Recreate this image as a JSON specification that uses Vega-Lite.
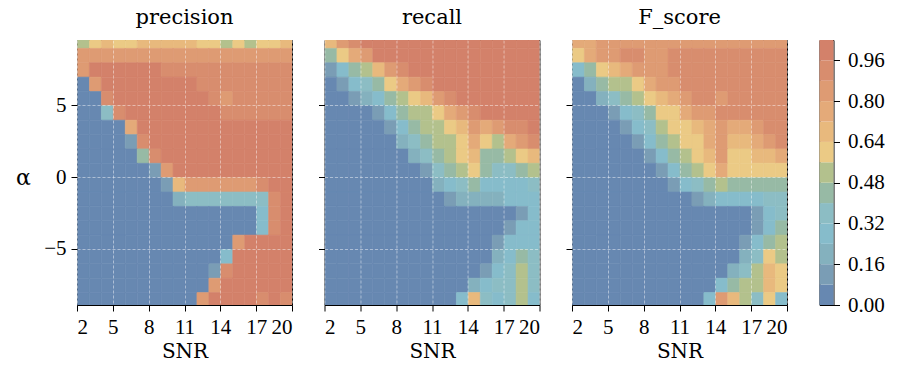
{
"$schema": "https://vega.github.io/schema/vega-lite/v6.json",
"padding": {"left": 15, "top": 6, "right": 0, "bottom": 0},
"background": "white",
"config": {
  "view": {"stroke": "#000", "strokeWidth": 1},
  "axis": {"domain": false, "tickColor": "#000", "tickSize": 6, "labelFont": "Liberation Serif", "labelFontSize": 21, "labelColor": "#000", "titleFont": "DejaVu Serif", "titleFontSize": 20, "titleFontWeight": "normal", "titleColor": "#000", "gridColor": "#ffffff", "gridDash": [3, 2], "gridOpacity": 0.55, "gridWidth": 0.8, "labelPadding": 5},
  "title": {"font": "DejaVu Serif", "fontSize": 21, "fontWeight": "normal", "color": "#000", "offset": 12.5}
},
"spacing": 32.5,
"bounds": "flush",
"resolve": {"scale": {"color": "independent", "stroke": "independent"}},
"datasets": {
"P": [
{"s":2.5,"a":9.5,"v":0.52},{"s":3.5,"a":9.5,"v":0.62},{"s":4.5,"a":9.5,"v":0.66},{"s":5.5,"a":9.5,"v":0.58},{"s":6.5,"a":9.5,"v":0.62},{"s":7.5,"a":9.5,"v":0.66},{"s":8.5,"a":9.5,"v":0.68},{"s":9.5,"a":9.5,"v":0.68},{"s":10.5,"a":9.5,"v":0.66},{"s":11.5,"a":9.5,"v":0.66},{"s":12.5,"a":9.5,"v":0.62},{"s":13.5,"a":9.5,"v":0.58},{"s":14.5,"a":9.5,"v":0.55},{"s":15.5,"a":9.5,"v":0.6},{"s":16.5,"a":9.5,"v":0.55},{"s":17.5,"a":9.5,"v":0.58},{"s":18.5,"a":9.5,"v":0.62},{"s":19.5,"a":9.5,"v":0.64},
{"s":2.5,"a":8.5,"v":0.86},{"s":3.5,"a":8.5,"v":0.87},{"s":4.5,"a":8.5,"v":0.87},{"s":5.5,"a":8.5,"v":0.87},{"s":6.5,"a":8.5,"v":0.87},{"s":7.5,"a":8.5,"v":0.87},{"s":8.5,"a":8.5,"v":0.87},{"s":9.5,"a":8.5,"v":0.87},{"s":10.5,"a":8.5,"v":0.87},{"s":11.5,"a":8.5,"v":0.87},{"s":12.5,"a":8.5,"v":0.87},{"s":13.5,"a":8.5,"v":0.87},{"s":14.5,"a":8.5,"v":0.87},{"s":15.5,"a":8.5,"v":0.87},{"s":16.5,"a":8.5,"v":0.87},{"s":17.5,"a":8.5,"v":0.87},{"s":18.5,"a":8.5,"v":0.87},{"s":19.5,"a":8.5,"v":0.87},
{"s":2.5,"a":7.5,"v":0.85},{"s":3.5,"a":7.5,"v":0.98},{"s":4.5,"a":7.5,"v":0.98},{"s":5.5,"a":7.5,"v":0.98},{"s":6.5,"a":7.5,"v":0.98},{"s":7.5,"a":7.5,"v":0.98},{"s":8.5,"a":7.5,"v":0.97},{"s":9.5,"a":7.5,"v":0.93},{"s":10.5,"a":7.5,"v":0.93},{"s":11.5,"a":7.5,"v":0.93},{"s":12.5,"a":7.5,"v":0.93},{"s":13.5,"a":7.5,"v":0.93},{"s":14.5,"a":7.5,"v":0.93},{"s":15.5,"a":7.5,"v":0.93},{"s":16.5,"a":7.5,"v":0.93},{"s":17.5,"a":7.5,"v":0.92},{"s":18.5,"a":7.5,"v":0.93},{"s":19.5,"a":7.5,"v":0.93},
{"s":2.5,"a":6.5,"v":0.05},{"s":3.5,"a":6.5,"v":0.8},{"s":4.5,"a":6.5,"v":0.98},{"s":5.5,"a":6.5,"v":0.98},{"s":6.5,"a":6.5,"v":0.98},{"s":7.5,"a":6.5,"v":0.98},{"s":8.5,"a":6.5,"v":0.98},{"s":9.5,"a":6.5,"v":0.98},{"s":10.5,"a":6.5,"v":0.98},{"s":11.5,"a":6.5,"v":0.97},{"s":12.5,"a":6.5,"v":0.93},{"s":13.5,"a":6.5,"v":0.93},{"s":14.5,"a":6.5,"v":0.93},{"s":15.5,"a":6.5,"v":0.93},{"s":16.5,"a":6.5,"v":0.92},{"s":17.5,"a":6.5,"v":0.93},{"s":18.5,"a":6.5,"v":0.93},{"s":19.5,"a":6.5,"v":0.93},
{"s":2.5,"a":5.5,"v":0.02},{"s":3.5,"a":5.5,"v":0.02},{"s":4.5,"a":5.5,"v":0.95},{"s":5.5,"a":5.5,"v":0.98},{"s":6.5,"a":5.5,"v":0.98},{"s":7.5,"a":5.5,"v":0.98},{"s":8.5,"a":5.5,"v":0.98},{"s":9.5,"a":5.5,"v":0.98},{"s":10.5,"a":5.5,"v":0.98},{"s":11.5,"a":5.5,"v":0.98},{"s":12.5,"a":5.5,"v":0.97},{"s":13.5,"a":5.5,"v":0.93},{"s":14.5,"a":5.5,"v":0.86},{"s":15.5,"a":5.5,"v":0.92},{"s":16.5,"a":5.5,"v":0.92},{"s":17.5,"a":5.5,"v":0.93},{"s":18.5,"a":5.5,"v":0.93},{"s":19.5,"a":5.5,"v":0.93},
{"s":2.5,"a":4.5,"v":0.02},{"s":3.5,"a":4.5,"v":0.02},{"s":4.5,"a":4.5,"v":0.35},{"s":5.5,"a":4.5,"v":0.95},{"s":6.5,"a":4.5,"v":0.98},{"s":7.5,"a":4.5,"v":0.98},{"s":8.5,"a":4.5,"v":0.98},{"s":9.5,"a":4.5,"v":0.98},{"s":10.5,"a":4.5,"v":0.98},{"s":11.5,"a":4.5,"v":0.98},{"s":12.5,"a":4.5,"v":0.98},{"s":13.5,"a":4.5,"v":0.97},{"s":14.5,"a":4.5,"v":0.95},{"s":15.5,"a":4.5,"v":0.93},{"s":16.5,"a":4.5,"v":0.93},{"s":17.5,"a":4.5,"v":0.93},{"s":18.5,"a":4.5,"v":0.88},{"s":19.5,"a":4.5,"v":0.93},
{"s":2.5,"a":3.5,"v":0.02},{"s":3.5,"a":3.5,"v":0.02},{"s":4.5,"a":3.5,"v":0.02},{"s":5.5,"a":3.5,"v":0.05},{"s":6.5,"a":3.5,"v":0.75},{"s":7.5,"a":3.5,"v":0.98},{"s":8.5,"a":3.5,"v":0.98},{"s":9.5,"a":3.5,"v":0.98},{"s":10.5,"a":3.5,"v":0.98},{"s":11.5,"a":3.5,"v":0.98},{"s":12.5,"a":3.5,"v":0.98},{"s":13.5,"a":3.5,"v":0.98},{"s":14.5,"a":3.5,"v":0.98},{"s":15.5,"a":3.5,"v":0.97},{"s":16.5,"a":3.5,"v":0.97},{"s":17.5,"a":3.5,"v":0.97},{"s":18.5,"a":3.5,"v":0.97},{"s":19.5,"a":3.5,"v":0.97},
{"s":2.5,"a":2.5,"v":0.02},{"s":3.5,"a":2.5,"v":0.02},{"s":4.5,"a":2.5,"v":0.02},{"s":5.5,"a":2.5,"v":0.02},{"s":6.5,"a":2.5,"v":0.15},{"s":7.5,"a":2.5,"v":0.95},{"s":8.5,"a":2.5,"v":0.98},{"s":9.5,"a":2.5,"v":0.98},{"s":10.5,"a":2.5,"v":0.98},{"s":11.5,"a":2.5,"v":0.98},{"s":12.5,"a":2.5,"v":0.98},{"s":13.5,"a":2.5,"v":0.98},{"s":14.5,"a":2.5,"v":0.98},{"s":15.5,"a":2.5,"v":0.98},{"s":16.5,"a":2.5,"v":0.98},{"s":17.5,"a":2.5,"v":0.98},{"s":18.5,"a":2.5,"v":0.98},{"s":19.5,"a":2.5,"v":0.98},
{"s":2.5,"a":1.5,"v":0.02},{"s":3.5,"a":1.5,"v":0.02},{"s":4.5,"a":1.5,"v":0.02},{"s":5.5,"a":1.5,"v":0.02},{"s":6.5,"a":1.5,"v":0.02},{"s":7.5,"a":1.5,"v":0.45},{"s":8.5,"a":1.5,"v":0.92},{"s":9.5,"a":1.5,"v":0.98},{"s":10.5,"a":1.5,"v":0.98},{"s":11.5,"a":1.5,"v":0.98},{"s":12.5,"a":1.5,"v":0.98},{"s":13.5,"a":1.5,"v":0.98},{"s":14.5,"a":1.5,"v":0.98},{"s":15.5,"a":1.5,"v":0.98},{"s":16.5,"a":1.5,"v":0.98},{"s":17.5,"a":1.5,"v":0.98},{"s":18.5,"a":1.5,"v":0.98},{"s":19.5,"a":1.5,"v":0.98},
{"s":2.5,"a":0.5,"v":0.02},{"s":3.5,"a":0.5,"v":0.02},{"s":4.5,"a":0.5,"v":0.02},{"s":5.5,"a":0.5,"v":0.02},{"s":6.5,"a":0.5,"v":0.02},{"s":7.5,"a":0.5,"v":0.02},{"s":8.5,"a":0.5,"v":0.12},{"s":9.5,"a":0.5,"v":0.85},{"s":10.5,"a":0.5,"v":0.98},{"s":11.5,"a":0.5,"v":0.98},{"s":12.5,"a":0.5,"v":0.98},{"s":13.5,"a":0.5,"v":0.98},{"s":14.5,"a":0.5,"v":0.98},{"s":15.5,"a":0.5,"v":0.98},{"s":16.5,"a":0.5,"v":0.98},{"s":17.5,"a":0.5,"v":0.98},{"s":18.5,"a":0.5,"v":0.98},{"s":19.5,"a":0.5,"v":0.98},
{"s":2.5,"a":-0.5,"v":0.02},{"s":3.5,"a":-0.5,"v":0.02},{"s":4.5,"a":-0.5,"v":0.02},{"s":5.5,"a":-0.5,"v":0.02},{"s":6.5,"a":-0.5,"v":0.02},{"s":7.5,"a":-0.5,"v":0.02},{"s":8.5,"a":-0.5,"v":0.02},{"s":9.5,"a":-0.5,"v":0.1},{"s":10.5,"a":-0.5,"v":0.7},{"s":11.5,"a":-0.5,"v":0.85},{"s":12.5,"a":-0.5,"v":0.85},{"s":13.5,"a":-0.5,"v":0.85},{"s":14.5,"a":-0.5,"v":0.85},{"s":15.5,"a":-0.5,"v":0.85},{"s":16.5,"a":-0.5,"v":0.85},{"s":17.5,"a":-0.5,"v":0.88},{"s":18.5,"a":-0.5,"v":0.97},{"s":19.5,"a":-0.5,"v":0.98},
{"s":2.5,"a":-1.5,"v":0.02},{"s":3.5,"a":-1.5,"v":0.02},{"s":4.5,"a":-1.5,"v":0.02},{"s":5.5,"a":-1.5,"v":0.02},{"s":6.5,"a":-1.5,"v":0.02},{"s":7.5,"a":-1.5,"v":0.02},{"s":8.5,"a":-1.5,"v":0.02},{"s":9.5,"a":-1.5,"v":0.02},{"s":10.5,"a":-1.5,"v":0.2},{"s":11.5,"a":-1.5,"v":0.32},{"s":12.5,"a":-1.5,"v":0.32},{"s":13.5,"a":-1.5,"v":0.32},{"s":14.5,"a":-1.5,"v":0.32},{"s":15.5,"a":-1.5,"v":0.32},{"s":16.5,"a":-1.5,"v":0.32},{"s":17.5,"a":-1.5,"v":0.35},{"s":18.5,"a":-1.5,"v":0.9},{"s":19.5,"a":-1.5,"v":0.98},
{"s":2.5,"a":-2.5,"v":0.02},{"s":3.5,"a":-2.5,"v":0.02},{"s":4.5,"a":-2.5,"v":0.02},{"s":5.5,"a":-2.5,"v":0.02},{"s":6.5,"a":-2.5,"v":0.02},{"s":7.5,"a":-2.5,"v":0.02},{"s":8.5,"a":-2.5,"v":0.02},{"s":9.5,"a":-2.5,"v":0.02},{"s":10.5,"a":-2.5,"v":0.02},{"s":11.5,"a":-2.5,"v":0.02},{"s":12.5,"a":-2.5,"v":0.02},{"s":13.5,"a":-2.5,"v":0.02},{"s":14.5,"a":-2.5,"v":0.02},{"s":15.5,"a":-2.5,"v":0.02},{"s":16.5,"a":-2.5,"v":0.02},{"s":17.5,"a":-2.5,"v":0.3},{"s":18.5,"a":-2.5,"v":0.95},{"s":19.5,"a":-2.5,"v":0.98},
{"s":2.5,"a":-3.5,"v":0.02},{"s":3.5,"a":-3.5,"v":0.02},{"s":4.5,"a":-3.5,"v":0.02},{"s":5.5,"a":-3.5,"v":0.02},{"s":6.5,"a":-3.5,"v":0.02},{"s":7.5,"a":-3.5,"v":0.02},{"s":8.5,"a":-3.5,"v":0.02},{"s":9.5,"a":-3.5,"v":0.02},{"s":10.5,"a":-3.5,"v":0.02},{"s":11.5,"a":-3.5,"v":0.02},{"s":12.5,"a":-3.5,"v":0.02},{"s":13.5,"a":-3.5,"v":0.02},{"s":14.5,"a":-3.5,"v":0.02},{"s":15.5,"a":-3.5,"v":0.02},{"s":16.5,"a":-3.5,"v":0.02},{"s":17.5,"a":-3.5,"v":0.3},{"s":18.5,"a":-3.5,"v":0.95},{"s":19.5,"a":-3.5,"v":0.98},
{"s":2.5,"a":-4.5,"v":0.02},{"s":3.5,"a":-4.5,"v":0.02},{"s":4.5,"a":-4.5,"v":0.02},{"s":5.5,"a":-4.5,"v":0.02},{"s":6.5,"a":-4.5,"v":0.02},{"s":7.5,"a":-4.5,"v":0.02},{"s":8.5,"a":-4.5,"v":0.02},{"s":9.5,"a":-4.5,"v":0.02},{"s":10.5,"a":-4.5,"v":0.02},{"s":11.5,"a":-4.5,"v":0.02},{"s":12.5,"a":-4.5,"v":0.02},{"s":13.5,"a":-4.5,"v":0.02},{"s":14.5,"a":-4.5,"v":0.02},{"s":15.5,"a":-4.5,"v":0.85},{"s":16.5,"a":-4.5,"v":0.98},{"s":17.5,"a":-4.5,"v":0.98},{"s":18.5,"a":-4.5,"v":0.98},{"s":19.5,"a":-4.5,"v":0.98},
{"s":2.5,"a":-5.5,"v":0.02},{"s":3.5,"a":-5.5,"v":0.02},{"s":4.5,"a":-5.5,"v":0.02},{"s":5.5,"a":-5.5,"v":0.02},{"s":6.5,"a":-5.5,"v":0.02},{"s":7.5,"a":-5.5,"v":0.02},{"s":8.5,"a":-5.5,"v":0.02},{"s":9.5,"a":-5.5,"v":0.02},{"s":10.5,"a":-5.5,"v":0.02},{"s":11.5,"a":-5.5,"v":0.02},{"s":12.5,"a":-5.5,"v":0.02},{"s":13.5,"a":-5.5,"v":0.02},{"s":14.5,"a":-5.5,"v":0.3},{"s":15.5,"a":-5.5,"v":0.98},{"s":16.5,"a":-5.5,"v":0.98},{"s":17.5,"a":-5.5,"v":0.98},{"s":18.5,"a":-5.5,"v":0.98},{"s":19.5,"a":-5.5,"v":0.98},
{"s":2.5,"a":-6.5,"v":0.02},{"s":3.5,"a":-6.5,"v":0.02},{"s":4.5,"a":-6.5,"v":0.02},{"s":5.5,"a":-6.5,"v":0.02},{"s":6.5,"a":-6.5,"v":0.02},{"s":7.5,"a":-6.5,"v":0.02},{"s":8.5,"a":-6.5,"v":0.02},{"s":9.5,"a":-6.5,"v":0.02},{"s":10.5,"a":-6.5,"v":0.02},{"s":11.5,"a":-6.5,"v":0.02},{"s":12.5,"a":-6.5,"v":0.02},{"s":13.5,"a":-6.5,"v":0.15},{"s":14.5,"a":-6.5,"v":0.95},{"s":15.5,"a":-6.5,"v":0.98},{"s":16.5,"a":-6.5,"v":0.98},{"s":17.5,"a":-6.5,"v":0.98},{"s":18.5,"a":-6.5,"v":0.98},{"s":19.5,"a":-6.5,"v":0.98},
{"s":2.5,"a":-7.5,"v":0.02},{"s":3.5,"a":-7.5,"v":0.02},{"s":4.5,"a":-7.5,"v":0.02},{"s":5.5,"a":-7.5,"v":0.02},{"s":6.5,"a":-7.5,"v":0.02},{"s":7.5,"a":-7.5,"v":0.02},{"s":8.5,"a":-7.5,"v":0.02},{"s":9.5,"a":-7.5,"v":0.02},{"s":10.5,"a":-7.5,"v":0.02},{"s":11.5,"a":-7.5,"v":0.02},{"s":12.5,"a":-7.5,"v":0.02},{"s":13.5,"a":-7.5,"v":0.85},{"s":14.5,"a":-7.5,"v":0.98},{"s":15.5,"a":-7.5,"v":0.98},{"s":16.5,"a":-7.5,"v":0.98},{"s":17.5,"a":-7.5,"v":0.98},{"s":18.5,"a":-7.5,"v":0.98},{"s":19.5,"a":-7.5,"v":0.98},
{"s":2.5,"a":-8.5,"v":0.02},{"s":3.5,"a":-8.5,"v":0.02},{"s":4.5,"a":-8.5,"v":0.02},{"s":5.5,"a":-8.5,"v":0.02},{"s":6.5,"a":-8.5,"v":0.02},{"s":7.5,"a":-8.5,"v":0.02},{"s":8.5,"a":-8.5,"v":0.02},{"s":9.5,"a":-8.5,"v":0.02},{"s":10.5,"a":-8.5,"v":0.02},{"s":11.5,"a":-8.5,"v":0.02},{"s":12.5,"a":-8.5,"v":0.8},{"s":13.5,"a":-8.5,"v":0.98},{"s":14.5,"a":-8.5,"v":0.98},{"s":15.5,"a":-8.5,"v":0.98},{"s":16.5,"a":-8.5,"v":0.98},{"s":17.5,"a":-8.5,"v":0.88},{"s":18.5,"a":-8.5,"v":0.98},{"s":19.5,"a":-8.5,"v":0.88}
],
"R": [
{"s":2.5,"a":9.5,"v":0.7},{"s":3.5,"a":9.5,"v":0.8},{"s":4.5,"a":9.5,"v":0.95},{"s":5.5,"a":9.5,"v":0.97},{"s":6.5,"a":9.5,"v":0.97},{"s":7.5,"a":9.5,"v":0.97},{"s":8.5,"a":9.5,"v":0.97},{"s":9.5,"a":9.5,"v":0.97},{"s":10.5,"a":9.5,"v":0.97},{"s":11.5,"a":9.5,"v":0.97},{"s":12.5,"a":9.5,"v":0.97},{"s":13.5,"a":9.5,"v":0.97},{"s":14.5,"a":9.5,"v":0.97},{"s":15.5,"a":9.5,"v":0.97},{"s":16.5,"a":9.5,"v":0.97},{"s":17.5,"a":9.5,"v":0.97},{"s":18.5,"a":9.5,"v":0.97},{"s":19.5,"a":9.5,"v":0.97},
{"s":2.5,"a":8.5,"v":0.45},{"s":3.5,"a":8.5,"v":0.62},{"s":4.5,"a":8.5,"v":0.75},{"s":5.5,"a":8.5,"v":0.85},{"s":6.5,"a":8.5,"v":0.97},{"s":7.5,"a":8.5,"v":0.97},{"s":8.5,"a":8.5,"v":0.97},{"s":9.5,"a":8.5,"v":0.97},{"s":10.5,"a":8.5,"v":0.97},{"s":11.5,"a":8.5,"v":0.97},{"s":12.5,"a":8.5,"v":0.97},{"s":13.5,"a":8.5,"v":0.97},{"s":14.5,"a":8.5,"v":0.97},{"s":15.5,"a":8.5,"v":0.97},{"s":16.5,"a":8.5,"v":0.97},{"s":17.5,"a":8.5,"v":0.97},{"s":18.5,"a":8.5,"v":0.97},{"s":19.5,"a":8.5,"v":0.97},
{"s":2.5,"a":7.5,"v":0.15},{"s":3.5,"a":7.5,"v":0.3},{"s":4.5,"a":7.5,"v":0.4},{"s":5.5,"a":7.5,"v":0.5},{"s":6.5,"a":7.5,"v":0.65},{"s":7.5,"a":7.5,"v":0.8},{"s":8.5,"a":7.5,"v":0.9},{"s":9.5,"a":7.5,"v":0.97},{"s":10.5,"a":7.5,"v":0.97},{"s":11.5,"a":7.5,"v":0.97},{"s":12.5,"a":7.5,"v":0.97},{"s":13.5,"a":7.5,"v":0.97},{"s":14.5,"a":7.5,"v":0.97},{"s":15.5,"a":7.5,"v":0.97},{"s":16.5,"a":7.5,"v":0.97},{"s":17.5,"a":7.5,"v":0.97},{"s":18.5,"a":7.5,"v":0.97},{"s":19.5,"a":7.5,"v":0.97},
{"s":2.5,"a":6.5,"v":0.05},{"s":3.5,"a":6.5,"v":0.12},{"s":4.5,"a":6.5,"v":0.25},{"s":5.5,"a":6.5,"v":0.35},{"s":6.5,"a":6.5,"v":0.45},{"s":7.5,"a":6.5,"v":0.6},{"s":8.5,"a":6.5,"v":0.72},{"s":9.5,"a":6.5,"v":0.82},{"s":10.5,"a":6.5,"v":0.92},{"s":11.5,"a":6.5,"v":0.97},{"s":12.5,"a":6.5,"v":0.97},{"s":13.5,"a":6.5,"v":0.97},{"s":14.5,"a":6.5,"v":0.97},{"s":15.5,"a":6.5,"v":0.97},{"s":16.5,"a":6.5,"v":0.97},{"s":17.5,"a":6.5,"v":0.97},{"s":18.5,"a":6.5,"v":0.97},{"s":19.5,"a":6.5,"v":0.97},
{"s":2.5,"a":5.5,"v":0.03},{"s":3.5,"a":5.5,"v":0.04},{"s":4.5,"a":5.5,"v":0.08},{"s":5.5,"a":5.5,"v":0.2},{"s":6.5,"a":5.5,"v":0.3},{"s":7.5,"a":5.5,"v":0.4},{"s":8.5,"a":5.5,"v":0.5},{"s":9.5,"a":5.5,"v":0.6},{"s":10.5,"a":5.5,"v":0.68},{"s":11.5,"a":5.5,"v":0.8},{"s":12.5,"a":5.5,"v":0.9},{"s":13.5,"a":5.5,"v":0.97},{"s":14.5,"a":5.5,"v":0.97},{"s":15.5,"a":5.5,"v":0.97},{"s":16.5,"a":5.5,"v":0.97},{"s":17.5,"a":5.5,"v":0.97},{"s":18.5,"a":5.5,"v":0.97},{"s":19.5,"a":5.5,"v":0.97},
{"s":2.5,"a":4.5,"v":0.03},{"s":3.5,"a":4.5,"v":0.03},{"s":4.5,"a":4.5,"v":0.03},{"s":5.5,"a":4.5,"v":0.04},{"s":6.5,"a":4.5,"v":0.15},{"s":7.5,"a":4.5,"v":0.3},{"s":8.5,"a":4.5,"v":0.42},{"s":9.5,"a":4.5,"v":0.48},{"s":10.5,"a":4.5,"v":0.55},{"s":11.5,"a":4.5,"v":0.62},{"s":12.5,"a":4.5,"v":0.72},{"s":13.5,"a":4.5,"v":0.82},{"s":14.5,"a":4.5,"v":0.9},{"s":15.5,"a":4.5,"v":0.97},{"s":16.5,"a":4.5,"v":0.97},{"s":17.5,"a":4.5,"v":0.97},{"s":18.5,"a":4.5,"v":0.97},{"s":19.5,"a":4.5,"v":0.97},
{"s":2.5,"a":3.5,"v":0.03},{"s":3.5,"a":3.5,"v":0.03},{"s":4.5,"a":3.5,"v":0.03},{"s":5.5,"a":3.5,"v":0.03},{"s":6.5,"a":3.5,"v":0.03},{"s":7.5,"a":3.5,"v":0.1},{"s":8.5,"a":3.5,"v":0.3},{"s":9.5,"a":3.5,"v":0.42},{"s":10.5,"a":3.5,"v":0.5},{"s":11.5,"a":3.5,"v":0.5},{"s":12.5,"a":3.5,"v":0.6},{"s":13.5,"a":3.5,"v":0.7},{"s":14.5,"a":3.5,"v":0.85},{"s":15.5,"a":3.5,"v":0.72},{"s":16.5,"a":3.5,"v":0.8},{"s":17.5,"a":3.5,"v":0.92},{"s":18.5,"a":3.5,"v":0.95},{"s":19.5,"a":3.5,"v":0.97},
{"s":2.5,"a":2.5,"v":0.03},{"s":3.5,"a":2.5,"v":0.03},{"s":4.5,"a":2.5,"v":0.03},{"s":5.5,"a":2.5,"v":0.03},{"s":6.5,"a":2.5,"v":0.03},{"s":7.5,"a":2.5,"v":0.03},{"s":8.5,"a":2.5,"v":0.2},{"s":9.5,"a":2.5,"v":0.35},{"s":10.5,"a":2.5,"v":0.45},{"s":11.5,"a":2.5,"v":0.5},{"s":12.5,"a":2.5,"v":0.52},{"s":13.5,"a":2.5,"v":0.6},{"s":14.5,"a":2.5,"v":0.75},{"s":15.5,"a":2.5,"v":0.6},{"s":16.5,"a":2.5,"v":0.5},{"s":17.5,"a":2.5,"v":0.72},{"s":18.5,"a":2.5,"v":0.82},{"s":19.5,"a":2.5,"v":0.88},
{"s":2.5,"a":1.5,"v":0.03},{"s":3.5,"a":1.5,"v":0.03},{"s":4.5,"a":1.5,"v":0.03},{"s":5.5,"a":1.5,"v":0.03},{"s":6.5,"a":1.5,"v":0.03},{"s":7.5,"a":1.5,"v":0.03},{"s":8.5,"a":1.5,"v":0.03},{"s":9.5,"a":1.5,"v":0.2},{"s":10.5,"a":1.5,"v":0.35},{"s":11.5,"a":1.5,"v":0.45},{"s":12.5,"a":1.5,"v":0.5},{"s":13.5,"a":1.5,"v":0.58},{"s":14.5,"a":1.5,"v":0.68},{"s":15.5,"a":1.5,"v":0.45},{"s":16.5,"a":1.5,"v":0.4},{"s":17.5,"a":1.5,"v":0.5},{"s":18.5,"a":1.5,"v":0.6},{"s":19.5,"a":1.5,"v":0.65},
{"s":2.5,"a":0.5,"v":0.03},{"s":3.5,"a":0.5,"v":0.03},{"s":4.5,"a":0.5,"v":0.03},{"s":5.5,"a":0.5,"v":0.03},{"s":6.5,"a":0.5,"v":0.03},{"s":7.5,"a":0.5,"v":0.03},{"s":8.5,"a":0.5,"v":0.03},{"s":9.5,"a":0.5,"v":0.03},{"s":10.5,"a":0.5,"v":0.15},{"s":11.5,"a":0.5,"v":0.35},{"s":12.5,"a":0.5,"v":0.45},{"s":13.5,"a":0.5,"v":0.55},{"s":14.5,"a":0.5,"v":0.6},{"s":15.5,"a":0.5,"v":0.4},{"s":16.5,"a":0.5,"v":0.35},{"s":17.5,"a":0.5,"v":0.35},{"s":18.5,"a":0.5,"v":0.42},{"s":19.5,"a":0.5,"v":0.48},
{"s":2.5,"a":-0.5,"v":0.03},{"s":3.5,"a":-0.5,"v":0.03},{"s":4.5,"a":-0.5,"v":0.03},{"s":5.5,"a":-0.5,"v":0.03},{"s":6.5,"a":-0.5,"v":0.03},{"s":7.5,"a":-0.5,"v":0.03},{"s":8.5,"a":-0.5,"v":0.03},{"s":9.5,"a":-0.5,"v":0.03},{"s":10.5,"a":-0.5,"v":0.03},{"s":11.5,"a":-0.5,"v":0.2},{"s":12.5,"a":-0.5,"v":0.3},{"s":13.5,"a":-0.5,"v":0.35},{"s":14.5,"a":-0.5,"v":0.42},{"s":15.5,"a":-0.5,"v":0.3},{"s":16.5,"a":-0.5,"v":0.3},{"s":17.5,"a":-0.5,"v":0.3},{"s":18.5,"a":-0.5,"v":0.3},{"s":19.5,"a":-0.5,"v":0.35},
{"s":2.5,"a":-1.5,"v":0.03},{"s":3.5,"a":-1.5,"v":0.03},{"s":4.5,"a":-1.5,"v":0.03},{"s":5.5,"a":-1.5,"v":0.03},{"s":6.5,"a":-1.5,"v":0.03},{"s":7.5,"a":-1.5,"v":0.03},{"s":8.5,"a":-1.5,"v":0.03},{"s":9.5,"a":-1.5,"v":0.03},{"s":10.5,"a":-1.5,"v":0.03},{"s":11.5,"a":-1.5,"v":0.03},{"s":12.5,"a":-1.5,"v":0.15},{"s":13.5,"a":-1.5,"v":0.2},{"s":14.5,"a":-1.5,"v":0.2},{"s":15.5,"a":-1.5,"v":0.22},{"s":16.5,"a":-1.5,"v":0.22},{"s":17.5,"a":-1.5,"v":0.25},{"s":18.5,"a":-1.5,"v":0.3},{"s":19.5,"a":-1.5,"v":0.3},
{"s":2.5,"a":-2.5,"v":0.03},{"s":3.5,"a":-2.5,"v":0.03},{"s":4.5,"a":-2.5,"v":0.03},{"s":5.5,"a":-2.5,"v":0.03},{"s":6.5,"a":-2.5,"v":0.03},{"s":7.5,"a":-2.5,"v":0.03},{"s":8.5,"a":-2.5,"v":0.03},{"s":9.5,"a":-2.5,"v":0.03},{"s":10.5,"a":-2.5,"v":0.03},{"s":11.5,"a":-2.5,"v":0.03},{"s":12.5,"a":-2.5,"v":0.03},{"s":13.5,"a":-2.5,"v":0.03},{"s":14.5,"a":-2.5,"v":0.03},{"s":15.5,"a":-2.5,"v":0.03},{"s":16.5,"a":-2.5,"v":0.03},{"s":17.5,"a":-2.5,"v":0.03},{"s":18.5,"a":-2.5,"v":0.15},{"s":19.5,"a":-2.5,"v":0.3},
{"s":2.5,"a":-3.5,"v":0.03},{"s":3.5,"a":-3.5,"v":0.03},{"s":4.5,"a":-3.5,"v":0.03},{"s":5.5,"a":-3.5,"v":0.03},{"s":6.5,"a":-3.5,"v":0.03},{"s":7.5,"a":-3.5,"v":0.03},{"s":8.5,"a":-3.5,"v":0.03},{"s":9.5,"a":-3.5,"v":0.03},{"s":10.5,"a":-3.5,"v":0.03},{"s":11.5,"a":-3.5,"v":0.03},{"s":12.5,"a":-3.5,"v":0.03},{"s":13.5,"a":-3.5,"v":0.03},{"s":14.5,"a":-3.5,"v":0.03},{"s":15.5,"a":-3.5,"v":0.03},{"s":16.5,"a":-3.5,"v":0.03},{"s":17.5,"a":-3.5,"v":0.12},{"s":18.5,"a":-3.5,"v":0.25},{"s":19.5,"a":-3.5,"v":0.3},
{"s":2.5,"a":-4.5,"v":0.03},{"s":3.5,"a":-4.5,"v":0.03},{"s":4.5,"a":-4.5,"v":0.03},{"s":5.5,"a":-4.5,"v":0.03},{"s":6.5,"a":-4.5,"v":0.03},{"s":7.5,"a":-4.5,"v":0.03},{"s":8.5,"a":-4.5,"v":0.03},{"s":9.5,"a":-4.5,"v":0.03},{"s":10.5,"a":-4.5,"v":0.03},{"s":11.5,"a":-4.5,"v":0.03},{"s":12.5,"a":-4.5,"v":0.03},{"s":13.5,"a":-4.5,"v":0.03},{"s":14.5,"a":-4.5,"v":0.03},{"s":15.5,"a":-4.5,"v":0.03},{"s":16.5,"a":-4.5,"v":0.12},{"s":17.5,"a":-4.5,"v":0.25},{"s":18.5,"a":-4.5,"v":0.3},{"s":19.5,"a":-4.5,"v":0.3},
{"s":2.5,"a":-5.5,"v":0.03},{"s":3.5,"a":-5.5,"v":0.03},{"s":4.5,"a":-5.5,"v":0.03},{"s":5.5,"a":-5.5,"v":0.03},{"s":6.5,"a":-5.5,"v":0.03},{"s":7.5,"a":-5.5,"v":0.03},{"s":8.5,"a":-5.5,"v":0.03},{"s":9.5,"a":-5.5,"v":0.03},{"s":10.5,"a":-5.5,"v":0.03},{"s":11.5,"a":-5.5,"v":0.03},{"s":12.5,"a":-5.5,"v":0.03},{"s":13.5,"a":-5.5,"v":0.03},{"s":14.5,"a":-5.5,"v":0.03},{"s":15.5,"a":-5.5,"v":0.03},{"s":16.5,"a":-5.5,"v":0.2},{"s":17.5,"a":-5.5,"v":0.3},{"s":18.5,"a":-5.5,"v":0.45},{"s":19.5,"a":-5.5,"v":0.35},
{"s":2.5,"a":-6.5,"v":0.03},{"s":3.5,"a":-6.5,"v":0.03},{"s":4.5,"a":-6.5,"v":0.03},{"s":5.5,"a":-6.5,"v":0.03},{"s":6.5,"a":-6.5,"v":0.03},{"s":7.5,"a":-6.5,"v":0.03},{"s":8.5,"a":-6.5,"v":0.03},{"s":9.5,"a":-6.5,"v":0.03},{"s":10.5,"a":-6.5,"v":0.03},{"s":11.5,"a":-6.5,"v":0.03},{"s":12.5,"a":-6.5,"v":0.03},{"s":13.5,"a":-6.5,"v":0.03},{"s":14.5,"a":-6.5,"v":0.03},{"s":15.5,"a":-6.5,"v":0.15},{"s":16.5,"a":-6.5,"v":0.3},{"s":17.5,"a":-6.5,"v":0.35},{"s":18.5,"a":-6.5,"v":0.5},{"s":19.5,"a":-6.5,"v":0.35},
{"s":2.5,"a":-7.5,"v":0.03},{"s":3.5,"a":-7.5,"v":0.03},{"s":4.5,"a":-7.5,"v":0.03},{"s":5.5,"a":-7.5,"v":0.03},{"s":6.5,"a":-7.5,"v":0.03},{"s":7.5,"a":-7.5,"v":0.03},{"s":8.5,"a":-7.5,"v":0.03},{"s":9.5,"a":-7.5,"v":0.03},{"s":10.5,"a":-7.5,"v":0.03},{"s":11.5,"a":-7.5,"v":0.03},{"s":12.5,"a":-7.5,"v":0.03},{"s":13.5,"a":-7.5,"v":0.03},{"s":14.5,"a":-7.5,"v":0.2},{"s":15.5,"a":-7.5,"v":0.3},{"s":16.5,"a":-7.5,"v":0.32},{"s":17.5,"a":-7.5,"v":0.35},{"s":18.5,"a":-7.5,"v":0.5},{"s":19.5,"a":-7.5,"v":0.35},
{"s":2.5,"a":-8.5,"v":0.03},{"s":3.5,"a":-8.5,"v":0.03},{"s":4.5,"a":-8.5,"v":0.03},{"s":5.5,"a":-8.5,"v":0.03},{"s":6.5,"a":-8.5,"v":0.03},{"s":7.5,"a":-8.5,"v":0.03},{"s":8.5,"a":-8.5,"v":0.03},{"s":9.5,"a":-8.5,"v":0.03},{"s":10.5,"a":-8.5,"v":0.03},{"s":11.5,"a":-8.5,"v":0.03},{"s":12.5,"a":-8.5,"v":0.03},{"s":13.5,"a":-8.5,"v":0.25},{"s":14.5,"a":-8.5,"v":0.7},{"s":15.5,"a":-8.5,"v":0.35},{"s":16.5,"a":-8.5,"v":0.3},{"s":17.5,"a":-8.5,"v":0.35},{"s":18.5,"a":-8.5,"v":0.48},{"s":19.5,"a":-8.5,"v":0.3}
],
"F": [
{"s":2.5,"a":9.5,"v":0.72},{"s":3.5,"a":9.5,"v":0.78},{"s":4.5,"a":9.5,"v":0.8},{"s":5.5,"a":9.5,"v":0.82},{"s":6.5,"a":9.5,"v":0.82},{"s":7.5,"a":9.5,"v":0.82},{"s":8.5,"a":9.5,"v":0.82},{"s":9.5,"a":9.5,"v":0.82},{"s":10.5,"a":9.5,"v":0.84},{"s":11.5,"a":9.5,"v":0.84},{"s":12.5,"a":9.5,"v":0.84},{"s":13.5,"a":9.5,"v":0.84},{"s":14.5,"a":9.5,"v":0.85},{"s":15.5,"a":9.5,"v":0.85},{"s":16.5,"a":9.5,"v":0.85},{"s":17.5,"a":9.5,"v":0.85},{"s":18.5,"a":9.5,"v":0.85},{"s":19.5,"a":9.5,"v":0.85},
{"s":2.5,"a":8.5,"v":0.62},{"s":3.5,"a":8.5,"v":0.72},{"s":4.5,"a":8.5,"v":0.8},{"s":5.5,"a":8.5,"v":0.84},{"s":6.5,"a":8.5,"v":0.9},{"s":7.5,"a":8.5,"v":0.88},{"s":8.5,"a":8.5,"v":0.86},{"s":9.5,"a":8.5,"v":0.86},{"s":10.5,"a":8.5,"v":0.9},{"s":11.5,"a":8.5,"v":0.92},{"s":12.5,"a":8.5,"v":0.92},{"s":13.5,"a":8.5,"v":0.92},{"s":14.5,"a":8.5,"v":0.92},{"s":15.5,"a":8.5,"v":0.92},{"s":16.5,"a":8.5,"v":0.92},{"s":17.5,"a":8.5,"v":0.92},{"s":18.5,"a":8.5,"v":0.92},{"s":19.5,"a":8.5,"v":0.92},
{"s":2.5,"a":7.5,"v":0.25},{"s":3.5,"a":7.5,"v":0.45},{"s":4.5,"a":7.5,"v":0.6},{"s":5.5,"a":7.5,"v":0.65},{"s":6.5,"a":7.5,"v":0.75},{"s":7.5,"a":7.5,"v":0.8},{"s":8.5,"a":7.5,"v":0.82},{"s":9.5,"a":7.5,"v":0.85},{"s":10.5,"a":7.5,"v":0.9},{"s":11.5,"a":7.5,"v":0.93},{"s":12.5,"a":7.5,"v":0.93},{"s":13.5,"a":7.5,"v":0.93},{"s":14.5,"a":7.5,"v":0.93},{"s":15.5,"a":7.5,"v":0.93},{"s":16.5,"a":7.5,"v":0.93},{"s":17.5,"a":7.5,"v":0.93},{"s":18.5,"a":7.5,"v":0.93},{"s":19.5,"a":7.5,"v":0.93},
{"s":2.5,"a":6.5,"v":0.05},{"s":3.5,"a":6.5,"v":0.2},{"s":4.5,"a":6.5,"v":0.42},{"s":5.5,"a":6.5,"v":0.48},{"s":6.5,"a":6.5,"v":0.52},{"s":7.5,"a":6.5,"v":0.62},{"s":8.5,"a":6.5,"v":0.72},{"s":9.5,"a":6.5,"v":0.8},{"s":10.5,"a":6.5,"v":0.85},{"s":11.5,"a":6.5,"v":0.92},{"s":12.5,"a":6.5,"v":0.92},{"s":13.5,"a":6.5,"v":0.92},{"s":14.5,"a":6.5,"v":0.92},{"s":15.5,"a":6.5,"v":0.92},{"s":16.5,"a":6.5,"v":0.92},{"s":17.5,"a":6.5,"v":0.93},{"s":18.5,"a":6.5,"v":0.93},{"s":19.5,"a":6.5,"v":0.93},
{"s":2.5,"a":5.5,"v":0.03},{"s":3.5,"a":5.5,"v":0.05},{"s":4.5,"a":5.5,"v":0.2},{"s":5.5,"a":5.5,"v":0.35},{"s":6.5,"a":5.5,"v":0.42},{"s":7.5,"a":5.5,"v":0.5},{"s":8.5,"a":5.5,"v":0.6},{"s":9.5,"a":5.5,"v":0.65},{"s":10.5,"a":5.5,"v":0.75},{"s":11.5,"a":5.5,"v":0.85},{"s":12.5,"a":5.5,"v":0.88},{"s":13.5,"a":5.5,"v":0.88},{"s":14.5,"a":5.5,"v":0.85},{"s":15.5,"a":5.5,"v":0.9},{"s":16.5,"a":5.5,"v":0.92},{"s":17.5,"a":5.5,"v":0.93},{"s":18.5,"a":5.5,"v":0.93},{"s":19.5,"a":5.5,"v":0.93},
{"s":2.5,"a":4.5,"v":0.03},{"s":3.5,"a":4.5,"v":0.03},{"s":4.5,"a":4.5,"v":0.03},{"s":5.5,"a":4.5,"v":0.1},{"s":6.5,"a":4.5,"v":0.25},{"s":7.5,"a":4.5,"v":0.35},{"s":8.5,"a":4.5,"v":0.45},{"s":9.5,"a":4.5,"v":0.6},{"s":10.5,"a":4.5,"v":0.62},{"s":11.5,"a":4.5,"v":0.72},{"s":12.5,"a":4.5,"v":0.8},{"s":13.5,"a":4.5,"v":0.85},{"s":14.5,"a":4.5,"v":0.88},{"s":15.5,"a":4.5,"v":0.88},{"s":16.5,"a":4.5,"v":0.9},{"s":17.5,"a":4.5,"v":0.9},{"s":18.5,"a":4.5,"v":0.88},{"s":19.5,"a":4.5,"v":0.92},
{"s":2.5,"a":3.5,"v":0.03},{"s":3.5,"a":3.5,"v":0.03},{"s":4.5,"a":3.5,"v":0.03},{"s":5.5,"a":3.5,"v":0.03},{"s":6.5,"a":3.5,"v":0.1},{"s":7.5,"a":3.5,"v":0.25},{"s":8.5,"a":3.5,"v":0.35},{"s":9.5,"a":3.5,"v":0.5},{"s":10.5,"a":3.5,"v":0.6},{"s":11.5,"a":3.5,"v":0.62},{"s":12.5,"a":3.5,"v":0.7},{"s":13.5,"a":3.5,"v":0.75},{"s":14.5,"a":3.5,"v":0.82},{"s":15.5,"a":3.5,"v":0.75},{"s":16.5,"a":3.5,"v":0.76},{"s":17.5,"a":3.5,"v":0.85},{"s":18.5,"a":3.5,"v":0.9},{"s":19.5,"a":3.5,"v":0.92},
{"s":2.5,"a":2.5,"v":0.03},{"s":3.5,"a":2.5,"v":0.03},{"s":4.5,"a":2.5,"v":0.03},{"s":5.5,"a":2.5,"v":0.03},{"s":6.5,"a":2.5,"v":0.03},{"s":7.5,"a":2.5,"v":0.1},{"s":8.5,"a":2.5,"v":0.25},{"s":9.5,"a":2.5,"v":0.42},{"s":10.5,"a":2.5,"v":0.52},{"s":11.5,"a":2.5,"v":0.6},{"s":12.5,"a":2.5,"v":0.63},{"s":13.5,"a":2.5,"v":0.72},{"s":14.5,"a":2.5,"v":0.8},{"s":15.5,"a":2.5,"v":0.66},{"s":16.5,"a":2.5,"v":0.66},{"s":17.5,"a":2.5,"v":0.75},{"s":18.5,"a":2.5,"v":0.82},{"s":19.5,"a":2.5,"v":0.88},
{"s":2.5,"a":1.5,"v":0.03},{"s":3.5,"a":1.5,"v":0.03},{"s":4.5,"a":1.5,"v":0.03},{"s":5.5,"a":1.5,"v":0.03},{"s":6.5,"a":1.5,"v":0.03},{"s":7.5,"a":1.5,"v":0.03},{"s":8.5,"a":1.5,"v":0.1},{"s":9.5,"a":1.5,"v":0.25},{"s":10.5,"a":1.5,"v":0.42},{"s":11.5,"a":1.5,"v":0.52},{"s":12.5,"a":1.5,"v":0.6},{"s":13.5,"a":1.5,"v":0.7},{"s":14.5,"a":1.5,"v":0.8},{"s":15.5,"a":1.5,"v":0.62},{"s":16.5,"a":1.5,"v":0.6},{"s":17.5,"a":1.5,"v":0.64},{"s":18.5,"a":1.5,"v":0.7},{"s":19.5,"a":1.5,"v":0.75},
{"s":2.5,"a":0.5,"v":0.03},{"s":3.5,"a":0.5,"v":0.03},{"s":4.5,"a":0.5,"v":0.03},{"s":5.5,"a":0.5,"v":0.03},{"s":6.5,"a":0.5,"v":0.03},{"s":7.5,"a":0.5,"v":0.03},{"s":8.5,"a":0.5,"v":0.03},{"s":9.5,"a":0.5,"v":0.1},{"s":10.5,"a":0.5,"v":0.3},{"s":11.5,"a":0.5,"v":0.42},{"s":12.5,"a":0.5,"v":0.52},{"s":13.5,"a":0.5,"v":0.62},{"s":14.5,"a":0.5,"v":0.72},{"s":15.5,"a":0.5,"v":0.6},{"s":16.5,"a":0.5,"v":0.6},{"s":17.5,"a":0.5,"v":0.6},{"s":18.5,"a":0.5,"v":0.6},{"s":19.5,"a":0.5,"v":0.62},
{"s":2.5,"a":-0.5,"v":0.03},{"s":3.5,"a":-0.5,"v":0.03},{"s":4.5,"a":-0.5,"v":0.03},{"s":5.5,"a":-0.5,"v":0.03},{"s":6.5,"a":-0.5,"v":0.03},{"s":7.5,"a":-0.5,"v":0.03},{"s":8.5,"a":-0.5,"v":0.03},{"s":9.5,"a":-0.5,"v":0.03},{"s":10.5,"a":-0.5,"v":0.12},{"s":11.5,"a":-0.5,"v":0.3},{"s":12.5,"a":-0.5,"v":0.38},{"s":13.5,"a":-0.5,"v":0.45},{"s":14.5,"a":-0.5,"v":0.5},{"s":15.5,"a":-0.5,"v":0.46},{"s":16.5,"a":-0.5,"v":0.42},{"s":17.5,"a":-0.5,"v":0.42},{"s":18.5,"a":-0.5,"v":0.42},{"s":19.5,"a":-0.5,"v":0.42},
{"s":2.5,"a":-1.5,"v":0.03},{"s":3.5,"a":-1.5,"v":0.03},{"s":4.5,"a":-1.5,"v":0.03},{"s":5.5,"a":-1.5,"v":0.03},{"s":6.5,"a":-1.5,"v":0.03},{"s":7.5,"a":-1.5,"v":0.03},{"s":8.5,"a":-1.5,"v":0.03},{"s":9.5,"a":-1.5,"v":0.03},{"s":10.5,"a":-1.5,"v":0.03},{"s":11.5,"a":-1.5,"v":0.03},{"s":12.5,"a":-1.5,"v":0.12},{"s":13.5,"a":-1.5,"v":0.22},{"s":14.5,"a":-1.5,"v":0.28},{"s":15.5,"a":-1.5,"v":0.3},{"s":16.5,"a":-1.5,"v":0.3},{"s":17.5,"a":-1.5,"v":0.3},{"s":18.5,"a":-1.5,"v":0.35},{"s":19.5,"a":-1.5,"v":0.35},
{"s":2.5,"a":-2.5,"v":0.03},{"s":3.5,"a":-2.5,"v":0.03},{"s":4.5,"a":-2.5,"v":0.03},{"s":5.5,"a":-2.5,"v":0.03},{"s":6.5,"a":-2.5,"v":0.03},{"s":7.5,"a":-2.5,"v":0.03},{"s":8.5,"a":-2.5,"v":0.03},{"s":9.5,"a":-2.5,"v":0.03},{"s":10.5,"a":-2.5,"v":0.03},{"s":11.5,"a":-2.5,"v":0.03},{"s":12.5,"a":-2.5,"v":0.03},{"s":13.5,"a":-2.5,"v":0.03},{"s":14.5,"a":-2.5,"v":0.03},{"s":15.5,"a":-2.5,"v":0.03},{"s":16.5,"a":-2.5,"v":0.03},{"s":17.5,"a":-2.5,"v":0.1},{"s":18.5,"a":-2.5,"v":0.3},{"s":19.5,"a":-2.5,"v":0.35},
{"s":2.5,"a":-3.5,"v":0.03},{"s":3.5,"a":-3.5,"v":0.03},{"s":4.5,"a":-3.5,"v":0.03},{"s":5.5,"a":-3.5,"v":0.03},{"s":6.5,"a":-3.5,"v":0.03},{"s":7.5,"a":-3.5,"v":0.03},{"s":8.5,"a":-3.5,"v":0.03},{"s":9.5,"a":-3.5,"v":0.03},{"s":10.5,"a":-3.5,"v":0.03},{"s":11.5,"a":-3.5,"v":0.03},{"s":12.5,"a":-3.5,"v":0.03},{"s":13.5,"a":-3.5,"v":0.03},{"s":14.5,"a":-3.5,"v":0.03},{"s":15.5,"a":-3.5,"v":0.03},{"s":16.5,"a":-3.5,"v":0.03},{"s":17.5,"a":-3.5,"v":0.15},{"s":18.5,"a":-3.5,"v":0.3},{"s":19.5,"a":-3.5,"v":0.42},
{"s":2.5,"a":-4.5,"v":0.03},{"s":3.5,"a":-4.5,"v":0.03},{"s":4.5,"a":-4.5,"v":0.03},{"s":5.5,"a":-4.5,"v":0.03},{"s":6.5,"a":-4.5,"v":0.03},{"s":7.5,"a":-4.5,"v":0.03},{"s":8.5,"a":-4.5,"v":0.03},{"s":9.5,"a":-4.5,"v":0.03},{"s":10.5,"a":-4.5,"v":0.03},{"s":11.5,"a":-4.5,"v":0.03},{"s":12.5,"a":-4.5,"v":0.03},{"s":13.5,"a":-4.5,"v":0.03},{"s":14.5,"a":-4.5,"v":0.03},{"s":15.5,"a":-4.5,"v":0.03},{"s":16.5,"a":-4.5,"v":0.12},{"s":17.5,"a":-4.5,"v":0.25},{"s":18.5,"a":-4.5,"v":0.45},{"s":19.5,"a":-4.5,"v":0.5},
{"s":2.5,"a":-5.5,"v":0.03},{"s":3.5,"a":-5.5,"v":0.03},{"s":4.5,"a":-5.5,"v":0.03},{"s":5.5,"a":-5.5,"v":0.03},{"s":6.5,"a":-5.5,"v":0.03},{"s":7.5,"a":-5.5,"v":0.03},{"s":8.5,"a":-5.5,"v":0.03},{"s":9.5,"a":-5.5,"v":0.03},{"s":10.5,"a":-5.5,"v":0.03},{"s":11.5,"a":-5.5,"v":0.03},{"s":12.5,"a":-5.5,"v":0.03},{"s":13.5,"a":-5.5,"v":0.03},{"s":14.5,"a":-5.5,"v":0.03},{"s":15.5,"a":-5.5,"v":0.03},{"s":16.5,"a":-5.5,"v":0.2},{"s":17.5,"a":-5.5,"v":0.35},{"s":18.5,"a":-5.5,"v":0.62},{"s":19.5,"a":-5.5,"v":0.52},
{"s":2.5,"a":-6.5,"v":0.03},{"s":3.5,"a":-6.5,"v":0.03},{"s":4.5,"a":-6.5,"v":0.03},{"s":5.5,"a":-6.5,"v":0.03},{"s":6.5,"a":-6.5,"v":0.03},{"s":7.5,"a":-6.5,"v":0.03},{"s":8.5,"a":-6.5,"v":0.03},{"s":9.5,"a":-6.5,"v":0.03},{"s":10.5,"a":-6.5,"v":0.03},{"s":11.5,"a":-6.5,"v":0.03},{"s":12.5,"a":-6.5,"v":0.03},{"s":13.5,"a":-6.5,"v":0.03},{"s":14.5,"a":-6.5,"v":0.03},{"s":15.5,"a":-6.5,"v":0.2},{"s":16.5,"a":-6.5,"v":0.35},{"s":17.5,"a":-6.5,"v":0.5},{"s":18.5,"a":-6.5,"v":0.66},{"s":19.5,"a":-6.5,"v":0.6},
{"s":2.5,"a":-7.5,"v":0.03},{"s":3.5,"a":-7.5,"v":0.03},{"s":4.5,"a":-7.5,"v":0.03},{"s":5.5,"a":-7.5,"v":0.03},{"s":6.5,"a":-7.5,"v":0.03},{"s":7.5,"a":-7.5,"v":0.03},{"s":8.5,"a":-7.5,"v":0.03},{"s":9.5,"a":-7.5,"v":0.03},{"s":10.5,"a":-7.5,"v":0.03},{"s":11.5,"a":-7.5,"v":0.03},{"s":12.5,"a":-7.5,"v":0.03},{"s":13.5,"a":-7.5,"v":0.03},{"s":14.5,"a":-7.5,"v":0.3},{"s":15.5,"a":-7.5,"v":0.42},{"s":16.5,"a":-7.5,"v":0.5},{"s":17.5,"a":-7.5,"v":0.52},{"s":18.5,"a":-7.5,"v":0.68},{"s":19.5,"a":-7.5,"v":0.6},
{"s":2.5,"a":-8.5,"v":0.03},{"s":3.5,"a":-8.5,"v":0.03},{"s":4.5,"a":-8.5,"v":0.03},{"s":5.5,"a":-8.5,"v":0.03},{"s":6.5,"a":-8.5,"v":0.03},{"s":7.5,"a":-8.5,"v":0.03},{"s":8.5,"a":-8.5,"v":0.03},{"s":9.5,"a":-8.5,"v":0.03},{"s":10.5,"a":-8.5,"v":0.03},{"s":11.5,"a":-8.5,"v":0.03},{"s":12.5,"a":-8.5,"v":0.03},{"s":13.5,"a":-8.5,"v":0.3},{"s":14.5,"a":-8.5,"v":0.8},{"s":15.5,"a":-8.5,"v":0.7},{"s":16.5,"a":-8.5,"v":0.5},{"s":17.5,"a":-8.5,"v":0.35},{"s":18.5,"a":-8.5,"v":0.62},{"s":19.5,"a":-8.5,"v":0.3}
],
"CB": [
{"lo":0,"hi":0.08,"v":0.04},{"lo":0.08,"hi":0.16,"v":0.12},{"lo":0.16,"hi":0.24,"v":0.2},{"lo":0.24,"hi":0.32,"v":0.28},{"lo":0.32,"hi":0.4,"v":0.36},{"lo":0.4,"hi":0.48,"v":0.44},{"lo":0.48,"hi":0.56,"v":0.52},{"lo":0.56,"hi":0.64,"v":0.6},{"lo":0.64,"hi":0.72,"v":0.68},{"lo":0.72,"hi":0.8,"v":0.76},{"lo":0.8,"hi":0.88,"v":0.84},{"lo":0.88,"hi":0.96,"v":0.92},{"lo":0.96,"hi":1.04,"v":1.0}
]
},
"hconcat": [
{
  "title": "precision",
  "width": 215, "height": 265,
  "data": {"name": "P"},
  "mark": {"type": "rect", "clip": true, "strokeWidth": 0.6},
  "encoding": {
    "x": {"field": "s", "type": "quantitative", "bin": {"step": 1, "extent": [2, 20]}, "scale": {"domain": [2, 20], "nice": false, "zero": false}, "axis": {"values": [2,5,8,11,14,17,20], "format": "d", "title": "SNR", "grid": true, "zindex": 1}},
    "y": {"field": "a", "type": "quantitative", "bin": {"step": 1, "extent": [-9, 10]}, "scale": {"domain": [-8.9, 9.55], "nice": false, "zero": false}, "axis": {"values": [-5,0,5], "format": "d", "title": "α", "grid": true, "zindex": 1, "titleAngle": 0, "titleAlign": "center", "titleBaseline": "middle", "titleX": -54, "titleY": 137, "titleFontSize": 22}},
    "color": {"field": "v", "type": "quantitative", "scale": {"type": "threshold", "domain": [0.08,0.16,0.24,0.32,0.4,0.48,0.56,0.64,0.72,0.8,0.88,0.96], "range": ["#6788b1","#7a9db5","#84b1be","#86bccb","#8cbdc4","#97baa5","#b3c18d","#ebca85","#e8b97d","#e4aa79","#de9b73","#d88d6e","#d3816a"]}, "legend": null},
    "stroke": {"field": "v", "type": "quantitative", "scale": {"type": "threshold", "domain": [0.08,0.16,0.24,0.32,0.4,0.48,0.56,0.64,0.72,0.8,0.88,0.96], "range": ["#6788b1","#7a9db5","#84b1be","#86bccb","#8cbdc4","#97baa5","#b3c18d","#ebca85","#e8b97d","#e4aa79","#de9b73","#d88d6e","#d3816a"]}, "legend": null}
  }
},
{
  "title": "recall",
  "width": 215, "height": 265,
  "data": {"name": "R"},
  "mark": {"type": "rect", "clip": true, "strokeWidth": 0.6},
  "encoding": {
    "x": {"field": "s", "type": "quantitative", "bin": {"step": 1, "extent": [2, 20]}, "scale": {"domain": [2, 20], "nice": false, "zero": false}, "axis": {"values": [2,5,8,11,14,17,20], "format": "d", "title": "SNR", "grid": true, "zindex": 1}},
    "y": {"field": "a", "type": "quantitative", "bin": {"step": 1, "extent": [-9, 10]}, "scale": {"domain": [-8.9, 9.55], "nice": false, "zero": false}, "axis": {"values": [-5,0,5], "labels": false, "title": null, "grid": true, "zindex": 1}},
    "color": {"field": "v", "type": "quantitative", "scale": {"type": "threshold", "domain": [0.08,0.16,0.24,0.32,0.4,0.48,0.56,0.64,0.72,0.8,0.88,0.96], "range": ["#6788b1","#7a9db5","#84b1be","#86bccb","#8cbdc4","#97baa5","#b3c18d","#ebca85","#e8b97d","#e4aa79","#de9b73","#d88d6e","#d3816a"]}, "legend": null},
    "stroke": {"field": "v", "type": "quantitative", "scale": {"type": "threshold", "domain": [0.08,0.16,0.24,0.32,0.4,0.48,0.56,0.64,0.72,0.8,0.88,0.96], "range": ["#6788b1","#7a9db5","#84b1be","#86bccb","#8cbdc4","#97baa5","#b3c18d","#ebca85","#e8b97d","#e4aa79","#de9b73","#d88d6e","#d3816a"]}, "legend": null}
  }
},
{
  "title": "F_score",
  "width": 215, "height": 265,
  "data": {"name": "F"},
  "mark": {"type": "rect", "clip": true, "strokeWidth": 0.6},
  "encoding": {
    "x": {"field": "s", "type": "quantitative", "bin": {"step": 1, "extent": [2, 20]}, "scale": {"domain": [2, 20], "nice": false, "zero": false}, "axis": {"values": [2,5,8,11,14,17,20], "format": "d", "title": "SNR", "grid": true, "zindex": 1}},
    "y": {"field": "a", "type": "quantitative", "bin": {"step": 1, "extent": [-9, 10]}, "scale": {"domain": [-8.9, 9.55], "nice": false, "zero": false}, "axis": {"values": [-5,0,5], "labels": false, "title": null, "grid": true, "zindex": 1}},
    "color": {"field": "v", "type": "quantitative", "scale": {"type": "threshold", "domain": [0.08,0.16,0.24,0.32,0.4,0.48,0.56,0.64,0.72,0.8,0.88,0.96], "range": ["#6788b1","#7a9db5","#84b1be","#86bccb","#8cbdc4","#97baa5","#b3c18d","#ebca85","#e8b97d","#e4aa79","#de9b73","#d88d6e","#d3816a"]}, "legend": null},
    "stroke": {"field": "v", "type": "quantitative", "scale": {"type": "threshold", "domain": [0.08,0.16,0.24,0.32,0.4,0.48,0.56,0.64,0.72,0.8,0.88,0.96], "range": ["#6788b1","#7a9db5","#84b1be","#86bccb","#8cbdc4","#97baa5","#b3c18d","#ebca85","#e8b97d","#e4aa79","#de9b73","#d88d6e","#d3816a"]}, "legend": null}
  }
},
{
  "width": 14, "height": 265,
  "data": {"name": "CB"},
  "mark": {"type": "rect"},
  "encoding": {
    "y": {"field": "lo", "type": "quantitative", "scale": {"domain": [0, 1.04], "nice": false, "zero": false}, "axis": {"orient": "right", "values": [0,0.16,0.32,0.48,0.64,0.8,0.96], "format": ".2f", "title": null, "grid": false, "labelPadding": 8, "zindex": 1}},
    "y2": {"field": "hi"},
    "color": {"field": "v", "type": "quantitative", "scale": {"type": "threshold", "domain": [0.08,0.16,0.24,0.32,0.4,0.48,0.56,0.64,0.72,0.8,0.88,0.96], "range": ["#6788b1","#7a9db5","#84b1be","#86bccb","#8cbdc4","#97baa5","#b3c18d","#ebca85","#e8b97d","#e4aa79","#de9b73","#d88d6e","#d3816a"]}, "legend": null}
  }
}
]
}
